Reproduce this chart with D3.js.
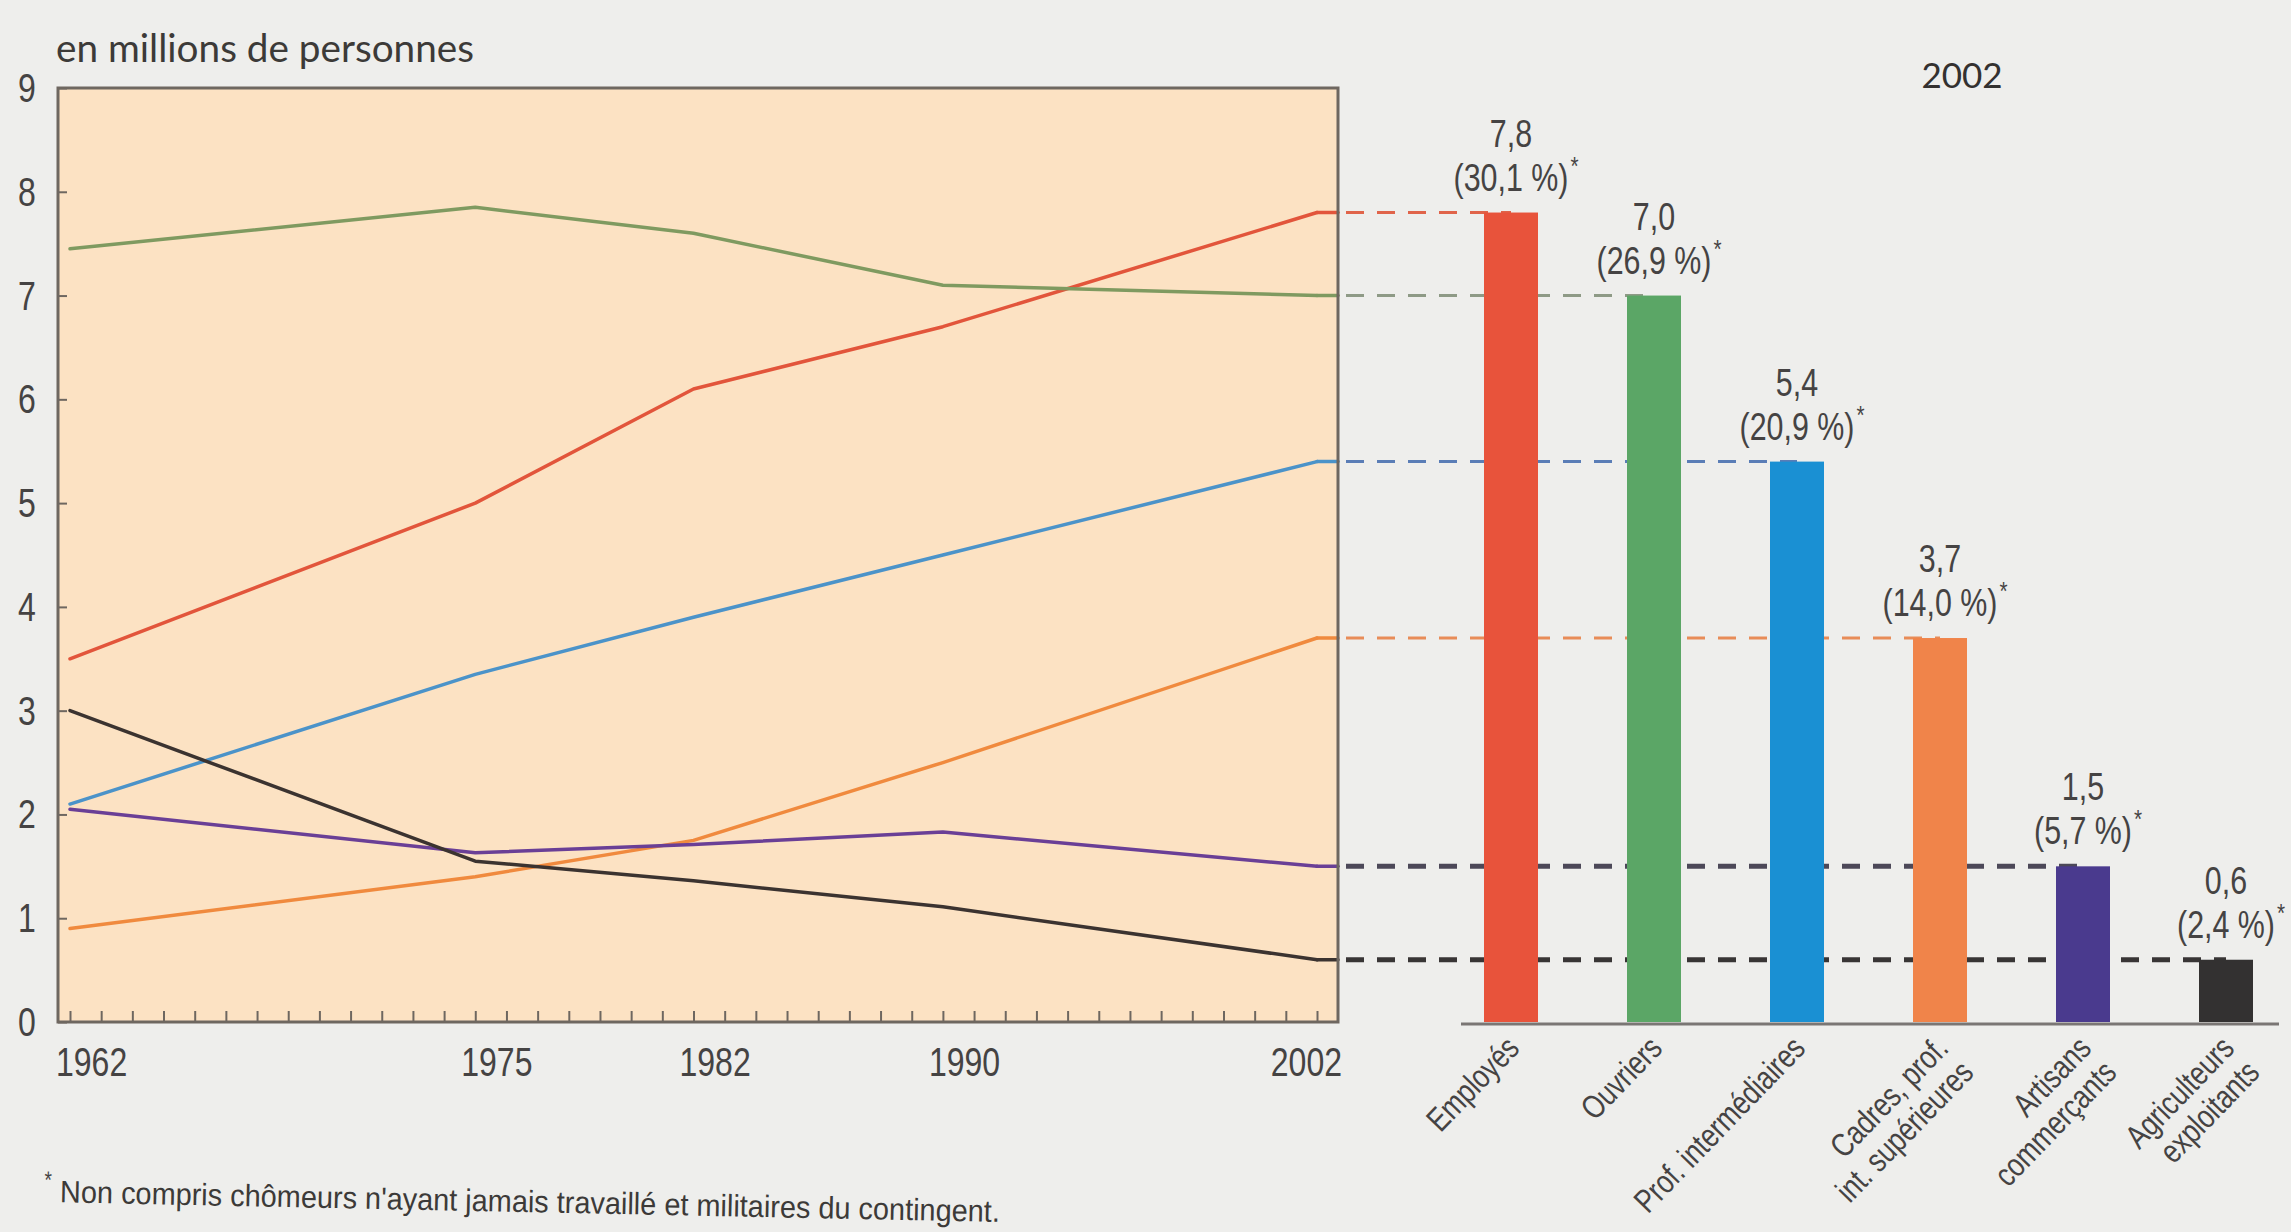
<!DOCTYPE html>
<html lang="fr">
<head>
<meta charset="utf-8">
<title>Population active par catégorie socioprofessionnelle</title>
<script src="https://cdn.jsdelivr.net/npm/d3@7"></script>
<style>
  html, body { margin: 0; padding: 0; background: #eeeeec; }
  svg { display: block; }
</style>
</head>
<body>
<svg id="chart" width="2291" height="1232"></svg>
<script>
// Census years on the line chart
const years = [1962, 1975, 1982, 1990, 2002];

// Working population by category, in millions of people
const employes     = [3.5, 5.0, 6.1, 6.7, 7.8];
const ouvriers     = [7.45, 7.85, 7.6, 7.1, 7.0];
const profInter    = [2.1, 3.35, 3.9, 4.5, 5.4];
const cadres       = [0.9, 1.4, 1.75, 2.5, 3.7];
const artisans     = [2.05, 1.63, 1.71, 1.83, 1.5];
const agriculteurs = [3.0, 1.55, 1.36, 1.11, 0.6];

// 2002 bar chart
const categories = ["Employés", "Ouvriers", "Prof. intermédiaires",
  "Cadres, prof. int. supérieures", "Artisans commerçants", "Agriculteurs exploitants"];
const categoryLines = [["Employés"], ["Ouvriers"], ["Prof. intermédiaires"],
  ["Cadres, prof.", "int. supérieures"], ["Artisans", "commerçants"], ["Agriculteurs", "exploitants"]];
const values2002 = [7.8, 7.0, 5.4, 3.7, 1.5, 0.6];
const valueLabels = ["7,8", "7,0", "5,4", "3,7", "1,5", "0,6"];
const shareLabels = ["(30,1 %)", "(26,9 %)", "(20,9 %)", "(14,0 %)", "(5,7 %)", "(2,4 %)"];

// Axis ticks
const yTicks = [0, 1, 2, 3, 4, 5, 6, 7, 8, 9];
const xLabelYears = [1962, 1975, 1982, 1990, 2002];

// Colours
const lineColors = ["#e2553b", "#7f9a60", "#4b93c9", "#f08a3e", "#6a3f96", "#3b3330"];
const barColors  = ["#e8533b", "#5ba666", "#1a90d3", "#f0844a", "#4a3a8e", "#333131"];
const dashColors = ["#e0644a", "#8e9a86", "#5a7db6", "#e88c58", "#4c4858", "#383535"];
const dashWidths = [3, 3, 3, 3, 5, 5];

const series = [employes, ouvriers, profInter, cadres, artisans, agriculteurs];

// Condensed sans: Liberation Sans squeezed horizontally
const sans = "'Liberation Sans', Arimo, Arial, sans-serif";
const squeeze = 0.8;
const humanist = "Lato, 'Open Sans', 'Noto Sans', sans-serif";
const textColor = "#454343";

const svg = d3.select("#chart");

function narrowText(parent, px, py, str, size, anchor, rot) {
  return parent.append("text")
    .attr("transform", `translate(${px},${py})${rot ? ` rotate(${rot})` : ""} scale(${squeeze},1)`)
    .attr("font-family", sans).attr("font-size", size)
    .attr("text-anchor", anchor || "start")
    .attr("fill", textColor)
    .text(str);
}

// Shared value scale for the line chart and the bars
const y = d3.scaleLinear().domain([0, 9]).range([1022, 88]);
const x = d3.scaleLinear().domain([1962, 2002]).range([70, 1317]);

const plotLeft = 58, plotRight = 1338;

// Plot background
svg.append("rect")
  .attr("x", plotLeft).attr("y", y(9))
  .attr("width", plotRight - plotLeft).attr("height", y(0) - y(9))
  .attr("fill", "#fce2c3");

// Unit title
svg.append("text")
  .attr("x", 56).attr("y", 62)
  .attr("font-family", humanist).attr("font-size", 38)
  .attr("textLength", 418).attr("lengthAdjust", "spacingAndGlyphs")
  .attr("fill", "#3c3a38")
  .text("en millions de personnes");

// Y axis (ticks point inward)
const yAxis = d3.axisRight(y).tickValues(yTicks).tickSize(9).tickFormat("");
svg.append("g").attr("transform", `translate(${plotLeft},0)`).call(yAxis)
  .call(g => g.select(".domain").remove())
  .call(g => g.selectAll("line").attr("stroke", "#6e6760").attr("stroke-width", 2));

const yLab = svg.append("g");
yTicks.forEach(d => narrowText(yLab, 27, y(d) + 14, d, 40, "middle"));

// X axis: one tick per year, pointing up into the plot
const xAxis = d3.axisTop(x).ticks(40).tickSize(11).tickFormat("");
svg.append("g").attr("transform", `translate(0,${y(0)})`).call(xAxis)
  .call(g => g.select(".domain").remove())
  .call(g => g.selectAll("line").attr("stroke", "#6e6760").attr("stroke-width", 2));

const xLab = svg.append("g");
xLabelYears.forEach(d => {
  if (d === 2002) narrowText(xLab, plotRight + 4, y(0) + 54, d, 40, "end");
  else narrowText(xLab, x(d) - 14, y(0) + 54, d, 40, "start");
});

// Series lines, held flat from 2002 to the right edge of the frame
const line = d3.line().x((d, i) => x(years[i])).y(d => y(d));
const lines = svg.append("g").attr("fill", "none").attr("stroke-width", 3.5)
  .attr("stroke-linejoin", "round").attr("stroke-linecap", "round");
series.forEach((s, k) => {
  lines.append("path").attr("d", line(s)).attr("stroke", lineColors[k]);
  lines.append("line")
    .attr("x1", x(2002)).attr("x2", plotRight)
    .attr("y1", y(s[s.length - 1])).attr("y2", y(s[s.length - 1]))
    .attr("stroke", lineColors[k]);
});

// Frame
svg.append("rect")
  .attr("x", plotLeft).attr("y", y(9))
  .attr("width", plotRight - plotLeft).attr("height", y(0) - y(9))
  .attr("fill", "none").attr("stroke", "#6e6760").attr("stroke-width", 3);

// Bar chart for 2002
const xb = d3.scalePoint().domain(categories).range([1511, 2226]);
const barWidth = 54;

// Dashed guides from the line ends to the bars
svg.append("g").selectAll("line").data(values2002).join("line")
  .attr("x1", plotRight + 8)
  .attr("x2", (d, i) => xb(categories[i]))
  .attr("y1", d => y(d)).attr("y2", d => y(d))
  .attr("stroke", (d, i) => dashColors[i])
  .attr("stroke-width", (d, i) => dashWidths[i])
  .attr("stroke-dasharray", "18,13");

svg.append("g").selectAll("rect").data(values2002).join("rect")
  .attr("x", (d, i) => xb(categories[i]) - barWidth / 2)
  .attr("y", d => y(d))
  .attr("width", barWidth)
  .attr("height", d => y(0) - y(d))
  .attr("fill", (d, i) => barColors[i]);

// Baseline
svg.append("line")
  .attr("x1", 1461).attr("x2", 2279)
  .attr("y1", y(0) + 2).attr("y2", y(0) + 2)
  .attr("stroke", "#7a7674").attr("stroke-width", 3);

// Value and share labels
const labels = svg.append("g");
values2002.forEach((v, i) => {
  const cx = xb(categories[i]);
  narrowText(labels, cx, y(v) - 66, valueLabels[i], 38, "middle");
  const share = narrowText(labels, cx, y(v) - 22, shareLabels[i], 38, "middle");
  const w = share.node().getComputedTextLength() * squeeze;
  narrowText(labels, cx + w / 2 + 2, y(v) - 38, "*", 26, "start");
});

// Year heading
svg.append("text")
  .attr("x", xb(categories[3]) + 22).attr("y", 88)
  .attr("text-anchor", "middle")
  .attr("font-family", humanist).attr("font-size", 35)
  .attr("fill", "#333130")
  .text("2002");

// Rotated category names
const cats = svg.append("g");
categoryLines.forEach((ls, i) => {
  const g = cats.append("g")
    .attr("transform", `translate(${xb(categories[i]) + 10},${y(0) + 28}) rotate(-46)`);
  ls.forEach((t, j) => narrowText(g, 0, j * 35, t, 33, "end"));
});

// Footnote
const foot = svg.append("g").attr("transform", "translate(44,1196) rotate(1.2)");
narrowText(foot, 0, -8, "*", 24, "start");
foot.append("text").attr("x", 16).attr("y", 6)
  .attr("font-family", sans).attr("font-size", 31).attr("fill", "#3c3a38")
  .attr("textLength", 940).attr("lengthAdjust", "spacingAndGlyphs")
  .text("Non compris chômeurs n'ayant jamais travaillé et militaires du contingent.");
</script>
</body>
</html>
